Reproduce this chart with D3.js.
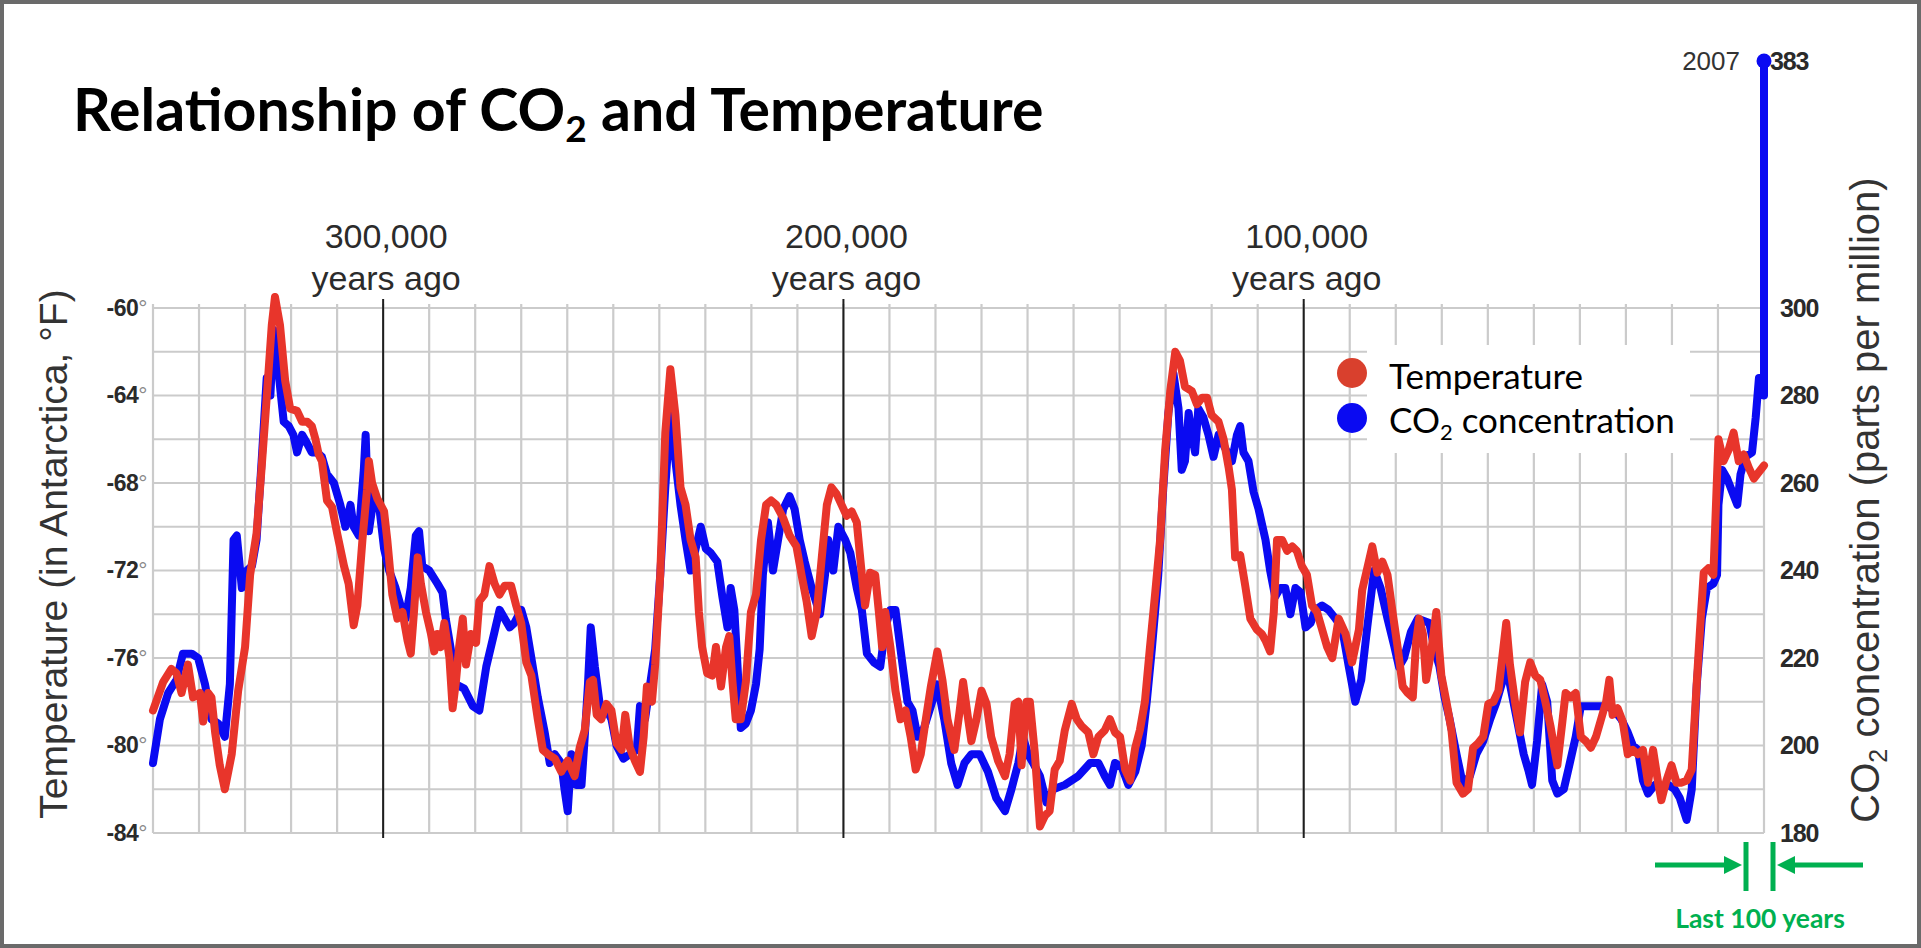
<!DOCTYPE html>
<html><head><meta charset="utf-8">
<script src="https://cdn.jsdelivr.net/npm/d3@7"></script>
<style>html,body{margin:0;padding:0;background:#fff;overflow:hidden}</style>
</head><body><svg id="chart" width="1921" height="948"></svg>
<script>
// ---- data (thousands of years ago) ----
const tempYears = [350.0,347.8,346.0,344.9,343.8,342.4,341.3,339.8,339.1,338.0,337.3,336.5,335.5,334.4,332.9,331.5,330.0,328.9,327.5,326.4,325.3,324.2,323.5,322.4,321.3,320.2,318.7,317.6,316.5,315.5,314.7,314.0,313.3,312.2,311.1,310.0,308.5,307.5,306.4,305.6,304.5,303.5,303.1,302.4,301.3,299.8,299.1,298.0,296.9,295.8,294.7,294.0,293.3,292.5,291.8,290.7,289.6,288.9,288.2,287.5,286.7,285.6,284.9,284.2,283.5,282.7,282.0,280.9,279.8,279.1,278.0,276.9,275.8,274.7,273.6,272.2,271.1,270.0,268.9,267.8,266.4,265.3,264.2,262.7,261.3,259.9,258.4,257.3,256.2,255.1,254.4,253.6,252.6,251.5,250.4,249.3,248.2,247.4,246.4,245.3,244.2,243.4,242.7,241.6,240.9,239.8,238.7,237.6,236.5,235.4,234.3,233.2,232.1,231.4,230.7,229.6,228.5,227.7,226.6,225.5,224.8,224.1,223.4,222.3,221.2,220.1,219.0,217.9,216.8,215.7,214.6,213.1,211.7,210.2,209.1,208.0,206.9,205.8,204.7,203.6,202.6,201.5,200.4,199.3,198.2,197.1,196.0,195.3,194.2,193.1,192.3,191.6,190.9,189.8,188.7,187.6,186.5,185.4,184.3,183.2,182.1,181.0,179.6,178.5,177.4,175.9,174.8,174.0,172.9,172.2,171.1,170.0,168.9,167.9,166.4,164.9,163.9,162.8,162.0,161.3,160.2,159.5,158.4,157.3,156.2,155.2,154.1,153.0,151.9,150.4,149.3,148.3,146.8,145.7,144.6,143.2,142.1,141.0,139.9,138.8,137.7,136.6,135.6,134.5,133.4,132.3,131.2,130.1,129.0,127.9,126.9,125.8,124.3,123.2,122.1,121.0,120.0,118.5,117.4,116.3,115.6,114.9,113.8,112.7,111.6,110.2,109.1,108.3,107.3,106.5,105.8,104.7,103.6,102.5,101.5,100.4,99.3,98.2,97.1,96.0,94.9,93.8,92.4,90.9,89.5,88.0,87.3,86.2,85.1,84.0,82.9,81.8,80.7,79.6,78.5,77.4,76.3,75.6,74.9,74.1,73.4,72.3,71.2,70.1,69.0,67.9,66.8,65.4,64.3,63.2,62.1,61.0,59.9,58.8,57.7,56.6,56.0,55.2,54.1,53.0,51.9,50.8,49.7,48.6,47.5,46.4,44.9,43.8,43.1,42.0,40.9,39.8,38.7,37.6,36.5,35.4,34.3,33.6,32.9,31.8,30.7,29.6,28.5,27.4,26.3,25.2,24.1,23.0,22.3,21.2,20.1,19.0,17.9,16.8,15.7,14.6,13.9,13.1,12.1,11.0,9.9,8.8,7.7,6.6,5.5,4.4,3.3,2.2,1.1,0.0];
const tempValues = [-78.4,-77.1,-76.5,-76.7,-77.6,-76.3,-77.8,-77.6,-78.9,-77.6,-77.8,-79.4,-80.9,-82.0,-80.4,-77.5,-75.5,-72.2,-70.3,-67.3,-64.1,-60.8,-59.5,-60.8,-63.3,-64.6,-64.7,-65.2,-65.2,-65.4,-66.0,-66.7,-67.0,-68.8,-69.1,-70.3,-71.8,-72.6,-74.5,-73.6,-70.6,-68.3,-67.0,-68.0,-68.7,-69.3,-70.6,-73.1,-74.2,-73.9,-75.2,-75.8,-73.9,-71.4,-72.6,-73.9,-74.9,-75.7,-74.9,-75.5,-74.4,-76.0,-78.3,-77.1,-75.5,-74.2,-76.3,-74.9,-75.3,-73.4,-73.1,-71.8,-72.6,-73.1,-72.7,-72.7,-73.6,-74.4,-76.2,-76.8,-78.8,-80.2,-80.4,-80.6,-81.2,-80.7,-81.4,-80.1,-79.3,-77.1,-77.0,-78.6,-78.8,-78.1,-78.4,-79.9,-80.2,-78.6,-80.1,-80.7,-81.2,-79.6,-77.3,-78.0,-76.3,-72.2,-65.7,-62.8,-64.9,-68.2,-69.0,-70.6,-71.4,-73.9,-75.5,-76.7,-76.8,-75.5,-77.3,-75.5,-75.0,-77.1,-78.8,-78.8,-77.1,-73.9,-73.1,-70.6,-69.0,-68.8,-69.0,-69.6,-70.4,-70.9,-72.2,-73.4,-75.0,-73.9,-71.4,-69.0,-68.2,-68.5,-69.0,-69.5,-69.3,-69.8,-72.2,-73.6,-72.1,-72.2,-73.9,-75.5,-73.9,-75.5,-77.5,-78.8,-78.4,-79.6,-81.1,-80.4,-78.8,-77.3,-75.7,-77.0,-78.8,-80.2,-78.5,-77.1,-78.8,-79.8,-78.8,-77.5,-78.1,-79.6,-80.7,-81.4,-80.4,-78.1,-78.0,-80.9,-78.0,-78.0,-80.4,-83.7,-83.2,-83.0,-81.1,-80.7,-79.3,-78.1,-78.8,-79.1,-79.4,-80.4,-79.6,-79.3,-78.8,-79.4,-79.6,-81.1,-81.6,-80.1,-79.3,-78.0,-75.5,-73.1,-70.6,-66.5,-63.8,-62.0,-62.4,-63.6,-63.8,-64.4,-64.1,-64.1,-64.9,-65.2,-66.0,-67.3,-68.3,-71.4,-71.3,-72.7,-74.2,-74.7,-74.9,-75.2,-75.7,-73.9,-70.6,-70.6,-71.1,-70.9,-71.1,-71.8,-72.2,-73.6,-73.9,-74.7,-75.5,-76.0,-74.2,-74.9,-76.2,-74.7,-72.9,-71.9,-70.9,-72.1,-71.6,-72.2,-73.9,-75.5,-77.3,-77.6,-77.8,-75.3,-74.2,-74.9,-77.0,-75.7,-73.9,-76.8,-78.0,-79.3,-81.7,-82.2,-82.0,-80.1,-79.9,-79.6,-78.1,-78.0,-77.5,-75.5,-74.4,-76.3,-78.0,-79.4,-77.1,-76.2,-76.8,-77.0,-78.0,-79.1,-80.9,-78.9,-77.6,-77.8,-77.6,-79.6,-79.8,-80.1,-79.6,-78.8,-78.0,-77.0,-78.6,-78.3,-78.9,-80.4,-80.2,-80.4,-80.2,-81.7,-80.2,-81.7,-82.5,-81.6,-80.9,-81.7,-81.7,-81.6,-81.1,-77.1,-74.7,-72.1,-71.9,-72.2,-66.0,-67.0,-66.5,-65.7,-67.0,-66.7,-67.3,-67.8,-67.5,-67.2];
const co2Years = [350.0,348.5,346.7,344.9,343.5,341.6,340.2,338.7,337.3,335.8,334.4,333.3,332.5,331.8,330.7,329.6,328.5,327.5,326.4,325.3,324.5,323.8,322.7,321.6,320.5,319.5,318.7,317.6,316.5,315.5,314.4,313.3,312.2,310.7,309.3,308.2,307.1,306.4,305.3,304.2,303.8,303.1,302.0,300.9,299.8,298.7,297.3,296.2,295.1,294.0,292.9,292.2,291.5,290.0,288.2,287.1,286.4,285.3,284.2,282.4,280.5,279.1,277.6,275.8,274.7,273.6,272.5,271.5,270.0,268.9,267.8,266.4,264.9,263.8,262.7,261.3,260.6,259.9,259.1,258.0,256.9,256.2,255.5,254.9,254.0,252.9,251.8,250.4,249.3,247.8,246.4,244.9,244.2,243.1,242.0,240.9,239.8,238.7,237.6,236.5,235.4,234.3,233.2,232.1,231.0,229.9,228.8,227.4,226.3,225.2,224.5,223.7,223.0,222.3,221.2,220.1,219.0,218.2,217.5,216.4,215.3,214.2,213.1,211.7,210.6,209.5,208.4,206.9,205.1,204.0,203.3,202.2,201.1,199.6,198.5,197.1,196.0,194.9,193.4,192.0,190.9,189.8,188.7,187.6,186.1,185.0,183.9,182.5,181.0,179.6,178.1,176.6,175.2,173.7,172.2,170.4,168.6,166.8,164.9,163.5,162.0,161.0,159.9,158.8,157.3,155.9,154.4,151.9,149.0,146.4,144.6,143.2,142.1,141.0,139.5,138.1,136.6,135.2,134.1,133.0,131.6,130.5,129.4,128.3,127.2,126.5,125.8,125.0,124.3,123.6,122.9,121.8,120.7,119.6,118.5,117.1,115.6,114.5,113.8,113.1,112.0,110.9,109.8,108.3,107.3,106.2,105.1,104.0,102.9,101.8,100.7,99.6,98.5,97.5,96.0,94.6,93.1,91.7,90.2,88.8,87.5,86.2,84.7,83.3,81.8,80.4,79.3,78.2,76.7,75.2,72.7,71.6,70.5,69.4,68.3,66.8,65.4,63.9,62.5,61.0,59.5,58.1,57.0,56.2,55.2,53.7,52.2,51.1,50.4,49.3,48.2,47.1,46.0,44.9,43.5,42.4,40.9,39.8,37.6,35.1,34.0,32.5,31.0,29.6,28.5,27.4,26.3,25.2,23.7,22.3,20.8,19.4,18.3,16.8,15.7,14.6,13.5,12.4,11.0,10.2,9.9,9.1,8.0,6.9,5.8,5.1,4.0,2.6,1.8,1.1,0.4,0.0];
const co2Values = [196,206,212,215,221,221,220,214,206,205,202,214,247,248,236,240,241,247,265,284,280,295,285,274,273,271,267,271,269,267,267,266,262,260,255,250,255,250,248,263,271,249,257,255,245,240,236,232,229,236,248,249,241,240,237,235,229,222,214,213,209,208,218,226,231,229,227,228,231,227,220,211,203,196,198,196,190,185,198,191,191,202,214,227,218,209,209,206,200,197,198,199,209,206,214,222,239,259,276,265,255,247,240,245,250,245,244,242,234,227,236,231,218,204,205,208,214,222,239,251,240,247,254,257,254,247,242,236,230,239,247,240,250,247,244,236,231,221,219,218,227,231,231,222,210,208,202,204,209,214,206,196,191,196,198,198,194,188,185,190,196,202,198,196,193,187,190,191,193,196,196,193,191,196,195,191,194,200,210,222,239,259,276,285,277,263,265,276,271,267,277,275,271,266,271,268,265,271,273,267,265,258,254,247,240,234,236,236,230,236,235,227,228,231,232,231,229,227,218,210,215,227,240,236,229,223,218,220,226,229,228,222,218,211,206,198,191,193,198,201,206,210,214,218,214,206,198,194,191,201,214,210,192,189,190,195,202,209,209,209,209,208,206,203,200,199,192,189,191,190,191,190,188,183,190,214,229,236,237,239,255,263,261,258,255,262,266,267,275,284,284,280];
const modernLabel = "2007";
const modernCO2 = 383;
const tempTicks = [-84,-80,-76,-72,-68,-64,-60];
const co2Ticks = [180,200,220,240,260,280,300];
const markerYears = [300,200,100];
const markerLabels = ["300,000","200,000","100,000"];
const legendLabels = ["Temperature","CO\u2082 concentration"];

// ---- layout ----
const svg = d3.select("#chart");
const W = 1921, H = 948;
const x = d3.scaleLinear().domain([350, 0]).range([153, 1764]);
const yT = d3.scaleLinear().domain([-84, -60]).range([833, 308]);
const yC = d3.scaleLinear().domain([180, 300, modernCO2]).range([833, 308, 61]);
const RED = "#e8352b", BLUE = "#0a0af2", GREEN = "#00b050";

svg.append("rect").attr("x", 2).attr("y", 2).attr("width", W - 4).attr("height", H - 4)
  .attr("fill", "#fff").attr("stroke", "#6a6a6a").attr("stroke-width", 4);

// title
const title = svg.append("text").attr("x", 73).attr("y", 131)
  .attr("font-family", "Lato, 'Open Sans', sans-serif").attr("font-weight", 700)
  .attr("font-size", 59).attr("fill", "#000");
title.append("tspan").text("Relationship of CO");
title.append("tspan").text("2").attr("font-size", 37).attr("dy", 11);
title.append("tspan").text(" and Temperature").attr("dy", -11);

// grid
const grid = svg.append("g").attr("stroke", "#cbcbcb").attr("stroke-width", 2.2);
grid.selectAll("line.h").data(d3.range(-84, -59, 2)).join("line")
  .attr("x1", x(350)).attr("x2", x(0)).attr("y1", d => yT(d)).attr("y2", d => yT(d));
grid.selectAll("line.v").data(d3.range(0, 351, 10)).join("line")
  .attr("class", "v")
  .attr("x1", d => x(d)).attr("x2", d => x(d)).attr("y1", yT(-60) - 4).attr("y2", yT(-84));

// marker lines + labels
const mk = svg.append("g");
mk.selectAll("line").data(markerYears).join("line")
  .attr("x1", d => x(d)).attr("x2", d => x(d)).attr("y1", 299).attr("y2", 838)
  .attr("stroke", "#1e1e1e").attr("stroke-width", 2);
const mkText = mk.selectAll("text").data(markerYears).join("text")
  .attr("x", d => x(d) + 3).attr("text-anchor", "middle")
  .attr("font-family", "'Liberation Sans', Arial, sans-serif").attr("font-size", 34).attr("fill", "#2b2b2b");
mkText.append("tspan").attr("x", d => x(d) + 3).attr("y", 248).text((d, i) => markerLabels[i]);
mkText.append("tspan").attr("x", d => x(d) + 3).attr("y", 290).text("years ago");

// left axis
const axL = svg.append("g").attr("transform", `translate(${x(350)},0)`)
  .call(d3.axisLeft(yT).tickValues(tempTicks).tickSize(0).tickPadding(6).tickFormat(d => d));
axL.select(".domain").remove();
axL.selectAll("text").attr("font-family", "'Liberation Sans', Arial, sans-serif")
  .attr("font-size", 23).attr("font-weight", 700).attr("fill", "#2a2a2a").attr("letter-spacing", -0.5)
  .append("tspan").text("°").attr("fill", "#8a8a8a").attr("font-weight", 400);

// right axis
const axR = svg.append("g").attr("transform", `translate(${x(0)},0)`)
  .call(d3.axisRight(yC).tickValues(co2Ticks).tickSize(0).tickPadding(16).tickFormat(d => d));
axR.select(".domain").remove();
axR.selectAll("text").attr("font-family", "'Liberation Sans', Arial, sans-serif")
  .attr("font-size", 25).attr("font-weight", 700).attr("fill", "#2a2a2a").attr("letter-spacing", -1.2);

// axis titles
svg.append("text").attr("transform", "translate(67,554) rotate(-90)").attr("text-anchor", "middle")
  .attr("font-family", "'Liberation Sans', Arial, sans-serif").attr("font-size", 39).attr("fill", "#333")
  .text("Temperature (in Antarctica, °F)");
const rt = svg.append("text").attr("transform", "translate(1879,500) rotate(-90)").attr("text-anchor", "middle")
  .attr("font-family", "'Liberation Sans', Arial, sans-serif").attr("font-size", 40).attr("fill", "#333");
rt.append("tspan").text("CO");
rt.append("tspan").text("2").attr("font-size", 25).attr("dy", 8);
rt.append("tspan").text(" concentration (parts per million)").attr("dy", -8);

// series
const co2Data = co2Years.map((d, i) => [d, co2Values[i]]).concat([[0, modernCO2]]);
const tempData = tempYears.map((d, i) => [d, tempValues[i]]);
svg.append("path").datum(co2Data)
  .attr("d", d3.line().x(d => x(d[0])).y(d => yC(d[1])))
  .attr("fill", "none").attr("stroke", BLUE).attr("stroke-width", 8)
  .attr("stroke-linejoin", "round").attr("stroke-linecap", "round");
svg.append("path").datum(tempData)
  .attr("d", d3.line().x(d => x(d[0])).y(d => yT(d[1])))
  .attr("fill", "none").attr("stroke", RED).attr("stroke-width", 8)
  .attr("stroke-linejoin", "round").attr("stroke-linecap", "round");

// modern point
svg.append("circle").attr("cx", x(0)).attr("cy", yC(modernCO2)).attr("r", 7.5).attr("fill", BLUE);
svg.append("text").attr("x", x(0) - 24).attr("y", yC(modernCO2) + 9).attr("text-anchor", "end")
  .attr("font-family", "'Liberation Sans', Arial, sans-serif").attr("font-size", 26).attr("fill", "#333")
  .text(modernLabel);
svg.append("text").attr("x", x(0) + 6).attr("y", yC(modernCO2) + 9)
  .attr("font-family", "'Liberation Sans', Arial, sans-serif").attr("font-size", 25)
  .attr("font-weight", 700).attr("fill", "#2a2a2a").attr("letter-spacing", -1.2)
  .text(modernCO2);

// legend
const lg = svg.append("g");
lg.append("rect").attr("x", 1367).attr("y", 345).attr("width", 323).attr("height", 108).attr("fill", "#fff");
lg.selectAll("circle").data([RED, BLUE]).join("circle")
  .attr("cx", 1352).attr("cy", (d, i) => 373 + i * 45).attr("r", 15).attr("fill", d => d === RED ? "#d9402d" : BLUE);
const lt = lg.selectAll("text").data(legendLabels).join("text")
  .attr("x", 1389).attr("y", (d, i) => 389 + i * 44)
  .attr("font-family", "Lato, 'Open Sans', sans-serif").attr("font-size", 35).attr("fill", "#000");
lt.filter((d, i) => i === 0).text(d => d);
lt.filter((d, i) => i === 1).each(function () {
  const t = d3.select(this);
  t.append("tspan").text("CO");
  t.append("tspan").text("2").attr("font-size", 22).attr("dy", 7);
  t.append("tspan").text(" concentration").attr("dy", -7);
});

// last 100 years annotation
const ax0 = x(0);
const ann = svg.append("g").attr("stroke", GREEN).attr("fill", GREEN);
ann.append("line").attr("x1", ax0 - 18).attr("x2", ax0 - 18).attr("y1", 842).attr("y2", 891).attr("stroke-width", 5);
ann.append("line").attr("x1", ax0 + 9).attr("x2", ax0 + 9).attr("y1", 842).attr("y2", 891).attr("stroke-width", 5);
ann.append("line").attr("x1", ax0 - 109).attr("x2", ax0 - 36).attr("y1", 865).attr("y2", 865).attr("stroke-width", 5);
ann.append("path").attr("d", `M${ax0 - 22},865 L${ax0 - 40},856 L${ax0 - 40},874 Z`).attr("stroke", "none");
ann.append("line").attr("x1", ax0 + 99).attr("x2", ax0 + 28).attr("y1", 865).attr("y2", 865).attr("stroke-width", 5);
ann.append("path").attr("d", `M${ax0 + 13},865 L${ax0 + 31},856 L${ax0 + 31},874 Z`).attr("stroke", "none");
svg.append("text").attr("x", ax0 - 4).attr("y", 928).attr("text-anchor", "middle")
  .attr("font-family", "Lato, 'Open Sans', sans-serif").attr("font-weight", 700).attr("font-size", 26.5)
  .attr("fill", GREEN).text("Last 100 years");
</script></body></html>
